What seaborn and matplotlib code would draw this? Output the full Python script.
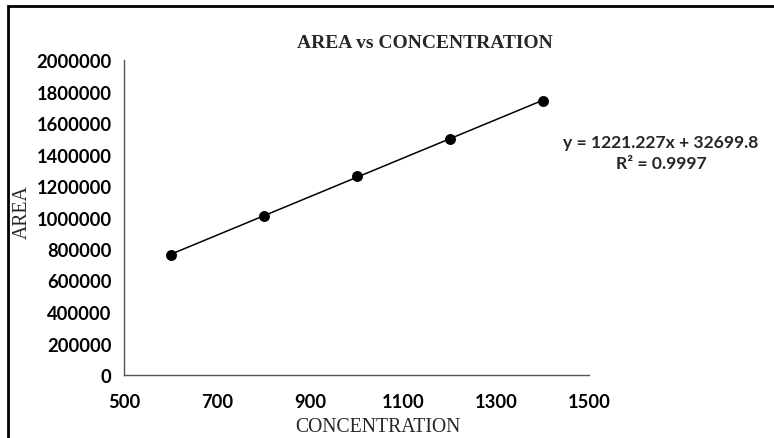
import numpy as np
import pandas as pd
import matplotlib
matplotlib.use("Agg")
import matplotlib.pyplot as plt
import matplotlib.patches as patches
import seaborn as sns

# data
concentration = [600, 800, 1000, 1200, 1400]
area = [762000, 1011000, 1261000, 1498000, 1741000]
x_ticks = [500, 700, 900, 1100, 1300, 1500]
y_ticks = [0, 200000, 400000, 600000, 800000, 1000000, 1200000, 1400000, 1600000, 1800000, 2000000]
equation = "y = 1221.227x + 32699.8"
r_squared = "R² = 0.9997"

df = pd.DataFrame({"CONCENTRATION": concentration, "AREA": area})

sns.set_style("white")
W, H = 774, 439
fig = plt.figure(figsize=(W / 100, H / 100), dpi=100)
ax = fig.add_axes([124 / W, 1 - 376 / H, (589 - 124) / W, (376 - 61) / H])

sns.regplot(data=df, x="CONCENTRATION", y="AREA", ax=ax, ci=None, truncate=True,
            scatter_kws=dict(s=62, color="black", alpha=1, zorder=3, linewidths=0),
            line_kws=dict(color="black", lw=1.1))

ax.set_xlim(500, 1500)
ax.set_ylim(0, 2000000)
ax.set_xticks(x_ticks)
ax.set_yticks(y_ticks)
ax.set_xticklabels([str(t) for t in x_ticks])
ax.set_yticklabels([str(t) for t in y_ticks])
ax.set_xlabel("")
ax.set_ylabel("")

tick_font = dict(family="Lato", weight="bold", size=13.2)
for lab in ax.get_xticklabels() + ax.get_yticklabels():
    lab.set_fontproperties(matplotlib.font_manager.FontProperties(**tick_font))
    lab.set_color("black")
ax.tick_params(axis="both", direction="out", length=5, width=1, color="#555555", pad=4)
ax.tick_params(axis="x", pad=8)

for side in ["top", "right"]:
    ax.spines[side].set_visible(False)
for side in ["left", "bottom"]:
    ax.spines[side].set_color("#555555")
    ax.spines[side].set_linewidth(1)

serif = ["Liberation Serif", "DejaVu Serif"]
fig.text(425 / W, 1 - 43 / H, "AREA vs CONCENTRATION", ha="center", va="center",
         family=serif, weight="bold", size=14)
fig.text(378 / W, 1 - 428 / H, "CONCENTRATION", ha="center", va="center",
         family=serif, size=14.2)
fig.text(22 / W, 1 - 212 / H, "AREA", ha="center", va="center", rotation=90,
         family=serif, size=14.2)

fig.text(661 / W, 1 - 143 / H, equation, ha="center", va="center",
         family="Lato", weight="bold", size=12.6)
fig.text(661 / W, 1 - 164 / H, r_squared, ha="center", va="center",
         family="Lato", weight="bold", size=12.6)

# outer chart border (cropped at right and bottom in the original)
border = patches.Rectangle((8 / W, -0.05), 1.1, 1.05 - 7 / H, transform=fig.transFigure,
                           fill=False, edgecolor="black", lw=2, clip_on=False)
fig.patches.append(border)

fig.savefig("out.png", dpi=100)
